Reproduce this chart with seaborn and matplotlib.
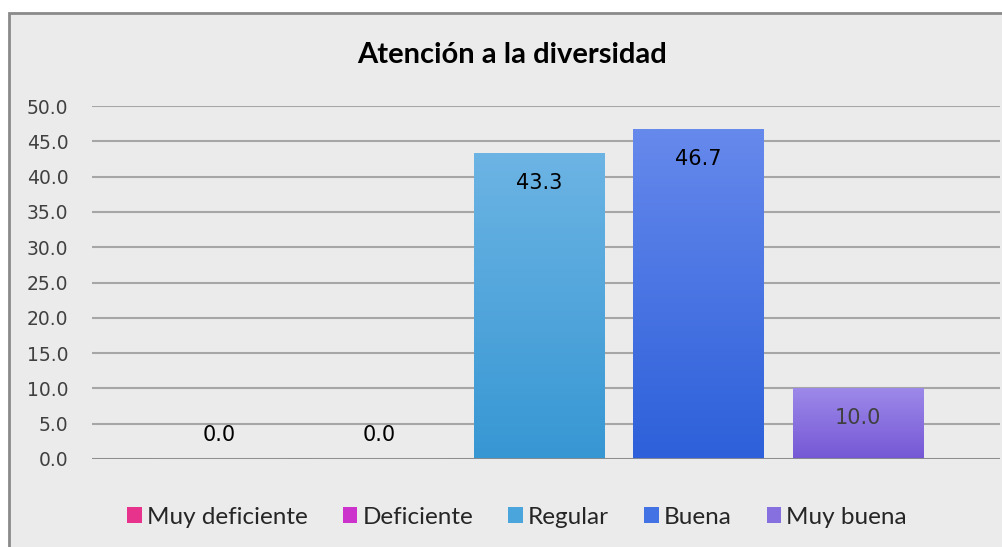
import numpy as np
import pandas as pd
import seaborn as sns
import matplotlib.pyplot as plt
from matplotlib.patches import Rectangle, Patch
from matplotlib.colors import LinearSegmentedColormap

categorias = ["Muy deficiente", "Deficiente", "Regular", "Buena", "Muy buena"]
porcentajes = [0.0, 0.0, 43.3, 46.7, 10.0]
color_arriba = ["#f25a9e", "#d84ad8", "#6cb4e4", "#6689ec", "#9d89e9"]
color_abajo = ["#e0157e", "#c01cc4", "#3797d3", "#2d60da", "#7557d5"]
color_medio = ["#e8338c", "#cc33cc", "#4aa5dc", "#4272e3", "#8670df"]

df = pd.DataFrame({"categoria": categorias, "valor": porcentajes})

sns.set_theme(style="white")
plt.rcParams["font.family"] = ["DejaVu Sans"]

fig = plt.figure(figsize=(10.03, 5.47), dpi=100)
fig.patch.set_facecolor("white")
# marco del grafico
fig.patches.append(Rectangle((9 / 1003, -0.01), 1.0, 1 - 13 / 547 + 0.01,
                             transform=fig.transFigure, facecolor="#ebebeb",
                             edgecolor="#8a8a8a", linewidth=2.0, zorder=-5))

ax = fig.add_axes([92 / 1003, 1 - 459 / 547, (1000 - 92) / 1003, (459 - 106) / 547])
ax.set_zorder(2)
ax.set_facecolor("none")

sns.barplot(data=df, x="categoria", y="valor", hue="categoria",
            palette=color_medio, width=0.815, legend=False, ax=ax, zorder=3)

ax.set_yticks(np.arange(0, 51, 5))
ax.set_yticklabels([f"{v:.1f}" for v in np.arange(0, 51, 5)], fontsize=13.5, color="#404040")
ax.set_xticks([])
ax.set_xlabel("")
ax.set_ylabel("")
ax.tick_params(axis="y", length=0, pad=17)
for s in ax.spines.values():
    s.set_visible(False)
ax.yaxis.grid(True, color="#a6a6a6", linewidth=1.5, zorder=0)
ax.set_axisbelow(True)
ax.axhline(0, color="#8c8c8c", linewidth=2, zorder=4)

# degradado en las barras
for i, bar in enumerate(ax.patches):
    x0, w, h = bar.get_x(), bar.get_width(), bar.get_height()
    if h <= 0:
        continue
    cmap = LinearSegmentedColormap.from_list("g", [color_abajo[i], color_arriba[i]])
    grad = np.linspace(0, 1, 256).reshape(-1, 1)
    im = ax.imshow(grad, cmap=cmap, aspect="auto", origin="lower",
                   extent=(x0, x0 + w, 0, h), zorder=3)
    im.set_clip_path(bar)
    bar.set_facecolor("none")
    bar.set_edgecolor("none")

ax.set_xlim(-0.80, 4.89)
ax.set_ylim(0, 50)

# etiquetas de datos
for i, v in enumerate(porcentajes):
    if v == 0:
        ax.text(i, 3.4, f"{v:.1f}", ha="center", va="center", fontsize=15, color="black", zorder=5)
    else:
        col = "#404040" if v < 20 else "black"
        ax.text(i, v - 4.2, f"{v:.1f}", ha="center", va="center", fontsize=15, color=col, zorder=5)

fig.text(512 / 1003, 1 - 55 / 547, "Atención a la diversidad", ha="center", va="center",
         fontsize=21, fontweight="bold", color="black", family=["Lato", "DejaVu Sans"])

handles = [Patch(facecolor=c, edgecolor="none") for c in color_medio]
leg = fig.legend(handles, categorias, loc="center", bbox_to_anchor=(517 / 1003, 1 - 517 / 547),
                 ncol=5, frameon=False, handlelength=0.6, handleheight=0.6,
                 handletextpad=0.2, columnspacing=1.45,
                 prop={"family": ["Lato", "DejaVu Sans"], "size": 17.5})

fig.savefig("out.png", dpi=100, facecolor=fig.get_facecolor())
